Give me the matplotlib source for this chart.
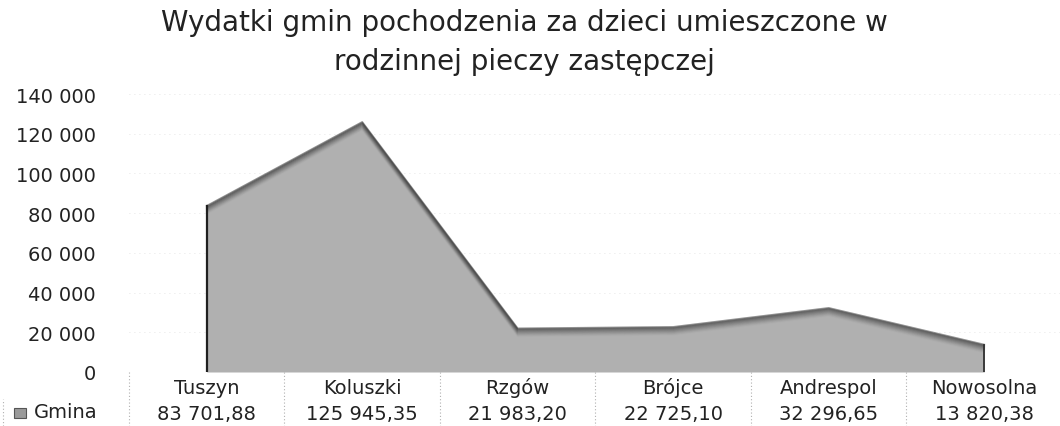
import numpy as np
import matplotlib.pyplot as plt
from matplotlib.patches import Rectangle

plt.rcParams['font.family'] = ['DejaVu Sans']

# data
gminy = ['Tuszyn', 'Koluszki', 'Rzgów', 'Brójce', 'Andrespol', 'Nowosolna']
wydatki = [83701.88, 125945.35, 21983.20, 22725.10, 32296.65, 13820.38]
y_ticks = [0, 20000, 40000, 60000, 80000, 100000, 120000, 140000]
seria = 'Gmina'


def pl_num(v, dec=2):
    s = f'{v:,.{dec}f}'
    return s.replace(',', ' ').replace('.', ',')


fig = plt.figure(figsize=(10.6, 4.27), dpi=100)
# axes placed in figure pixels: x 129..1062, y (from top) 95..373
W, H = 1060, 427
ax = fig.add_axes([129 / W, 1 - 373 / H, (1062 - 129) / W, (373 - 95) / H])

x = np.arange(len(gminy))
ax.set_xlim(-0.5, len(gminy) - 0.5)
ax.set_ylim(0, 140000)

# faint dotted gridlines
for t in y_ticks[1:]:
    ax.axhline(t, color='#dcdcdc', lw=0.6, ls=(0, (1, 5)), zorder=0)

# grey area
ax.fill_between(x, 0, wydatki, color='#b0b0b0', lw=0, zorder=2)
# darker band along the top edge (3D depth look)
px = 140000 / (373 - 95)
for k in range(9):
    ax.plot(x, np.array(wydatki) - k * px, color='#383838',
            alpha=0.55 * (1 - k / 9) ** 1.5, lw=1.2, zorder=3)
ax.plot([x[0], x[0]], [0, wydatki[0]], color='#202020', lw=1.6, zorder=4)
ax.plot([x[-1], x[-1]], [0, wydatki[-1]], color='#303030', lw=1.3, zorder=4)

for s in ax.spines.values():
    s.set_visible(False)
ax.set_xticks([])
ax.set_yticks(y_ticks)
ax.set_yticklabels([pl_num(t, 0) for t in y_ticks],
                   fontsize=14, color='#222222')
ax.tick_params(axis='y', length=0, pad=24)

fig.suptitle('Wydatki gmin pochodzenia za dzieci umieszczone w\nrodzinnej pieczy zastępczej',
             x=0.495, y=0.978, fontsize=20, color='#222222', linespacing=1.5)

# data table below the plot
trans = ax.get_xaxis_transform()
row1, row2 = -0.055, -0.15
for i, g in enumerate(gminy):
    ax.text(i, row1, g, transform=trans, ha='center', va='center',
            fontsize=14, color='#222222', clip_on=False)
    ax.text(i, row2, pl_num(wydatki[i]), transform=trans, ha='center',
            va='center', fontsize=14, color='#222222', clip_on=False)
for b in np.arange(len(gminy) + 1) - 0.5:
    ax.plot([b, b], [0.0, -0.195], transform=trans, color='#b0b0b0',
            lw=0.8, ls=(0, (1, 2)), clip_on=False)
fig.add_artist(Rectangle((14 / W, 1 - 419 / H), 12 / W, 10 / H,
                         transform=fig.transFigure, facecolor='#9a9a9a',
                         edgecolor='#555555', lw=0.8))
fig.text(34 / W, 1 - 413 / H, seria, ha='left', va='center',
         fontsize=14, color='#222222')
fig.add_artist(plt.Line2D([3 / W, 3 / W], [1 - 427 / H, 1 - 400 / H],
                          color='#b0b0b0', lw=0.8, ls=(0, (1, 2))))

fig.savefig('out.png', dpi=100)
